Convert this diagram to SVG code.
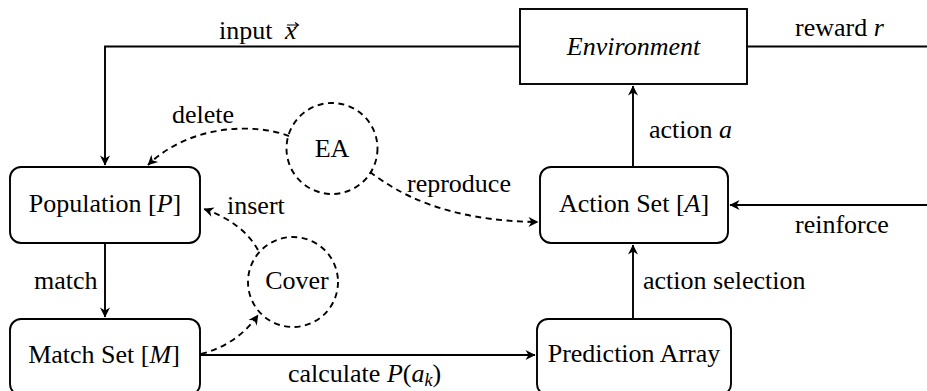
<svg xmlns="http://www.w3.org/2000/svg" width="927" height="391" viewBox="0 0 927 391">
<style>
text{font-family:"Liberation Serif","Times New Roman",serif;font-size:26px;fill:#000}
.m{font-style:italic}
.box{fill:#fff;stroke:#000;stroke-width:1.9}
.c{fill:none;stroke:#000;stroke-width:1.9;stroke-dasharray:6 4.5}
.e{fill:none;stroke:#000;stroke-width:1.9}
.d{fill:none;stroke:#000;stroke-width:1.9;stroke-dasharray:6 4.5}
.mid{text-anchor:middle}
</style>
<defs>
<marker id="ah" viewBox="-11 -6 12 12" refX="0" refY="0" markerWidth="12" markerHeight="12" markerUnits="userSpaceOnUse" orient="auto">
<path d="M0.5,0 L-9.5,-5 L-6.5,0 L-9.5,5 Z" fill="#000"/>
</marker>
</defs>
<rect width="927" height="391" fill="#fff"/>
<g id="connectors">
<path class="e" d="M520,46.5 H105 V165" marker-end="url(#ah)"/>
<path class="e" d="M747,46.5 H927"/>
<path class="e" d="M633,167 V86" marker-end="url(#ah)"/>
<path class="e" d="M927,205 H730" marker-end="url(#ah)"/>
<path class="e" d="M633,319 V245" marker-end="url(#ah)"/>
<path class="e" d="M105,243 V317" marker-end="url(#ah)"/>
<path class="e" d="M200,355 H535" marker-end="url(#ah)"/>
<path class="d" d="M289,136 C255,123 190,124 148,165" marker-end="url(#ah)"/>
<path class="d" d="M370,172 C398,193 445,221 538,222" marker-end="url(#ah)"/>
<path class="d" d="M258,250 C248,232 230,218 204,209" marker-end="url(#ah)"/>
<path class="d" d="M201,354 C225,348 245,334 258,315" marker-end="url(#ah)"/>
<text x="219" y="39">input <tspan class="m" x="285">x</tspan></text>
<path class="e" d="M287,25 H298 M295,22.5 L298.5,25 L295,27.5" style="stroke-width:1.1"/>
<text x="795" y="36">reward <tspan class="m">r</tspan></text>
<text x="649" y="138">action <tspan class="m">a</tspan></text>
<text x="795" y="233">reinforce</text>
<text x="643" y="289">action selection</text>
<text x="172" y="123">delete</text>
<text x="407" y="192">reproduce</text>
<text x="227" y="214">insert</text>
<text x="34" y="289">match</text>
<text x="288" y="382">calculate <tspan class="m">P</tspan>(<tspan class="m">a</tspan><tspan class="m" font-size="18" dy="4">k</tspan><tspan dy="-4">)</tspan></text>
</g>
<g id="environment">
<rect class="box" x="520" y="9" width="227" height="75"/>
<text class="mid m" x="633.5" y="55">Environment</text>
</g>
<g id="population">
<rect class="box" x="10" y="167" width="190" height="76" rx="11"/>
<text class="mid" x="105" y="212">Population [<tspan class="m">P</tspan>]</text>
</g>
<g id="matchset">
<rect class="box" x="10" y="319" width="190" height="76" rx="11"/>
<text class="mid" x="104" y="363">Match Set [<tspan class="m">M</tspan>]</text>
</g>
<g id="actionset">
<rect class="box" x="540" y="167" width="188" height="76" rx="11"/>
<text class="mid" x="634" y="212">Action Set [<tspan class="m">A</tspan>]</text>
</g>
<g id="predictionarray">
<rect class="box" x="537" y="319" width="194" height="76" rx="11"/>
<text class="mid" x="634" y="362">Prediction Array</text>
</g>
<g id="ea">
<circle class="c" cx="332" cy="148.5" r="45.5"/>
<text class="mid" x="332" y="157">EA</text>
</g>
<g id="cover">
<circle class="c" cx="293" cy="282" r="45"/>
<text class="mid" x="297" y="289">Cover</text>
</g>
</svg>
